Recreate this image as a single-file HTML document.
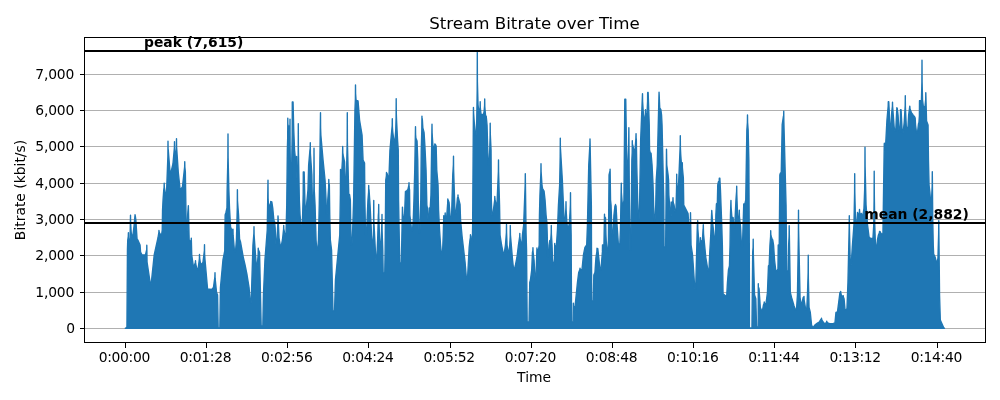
<!DOCTYPE html>
<html lang="en"><head><meta charset="utf-8"><title>Stream Bitrate over Time</title>
<style>
html,body{margin:0;padding:0;background:#fff;}
body{width:1000px;height:400px;overflow:hidden;}
svg{display:block;will-change:transform;}
text{font-family:"DejaVu Sans","Liberation Sans",sans-serif;fill:#000;}
.t10{font-size:13.89px;}
.t12{font-size:16.67px;}
.b{font-weight:bold;}
</style></head><body>
<svg width="1000" height="400" viewBox="0 0 1000 400">
<rect x="0" y="0" width="1000" height="400" fill="#ffffff"/>

<g stroke="#b0b0b0" stroke-width="1" shape-rendering="crispEdges">
<line x1="85" x2="985" y1="74.5" y2="74.5"/>
<line x1="85" x2="985" y1="110.5" y2="110.5"/>
<line x1="85" x2="985" y1="146.5" y2="146.5"/>
<line x1="85" x2="985" y1="183.5" y2="183.5"/>
<line x1="85" x2="985" y1="219.5" y2="219.5"/>
<line x1="85" x2="985" y1="255.5" y2="255.5"/>
<line x1="85" x2="985" y1="292.5" y2="292.5"/>
<line x1="85" x2="985" y1="328.5" y2="328.5"/>
</g>
<path fill="#1f77b4" stroke="#1f77b4" stroke-width="1.39" stroke-linejoin="round" d="M125.30,328.30 L125.30,328.30 L125.90,328.30 L126.95,327 L127.45,250 L127.75,240 L128.30,236.41 L128.40,232.70 L128.50,238.14 L129.15,240 L130.05,240 L130.50,215.20 L130.60,222.83 L131.15,232 L131.85,236.50 L132.75,236.50 L134.05,226 L135.05,214.72 L135.10,216.35 L135.25,215.71 L135.85,220 L137.05,239 L138.05,240.50 L140.05,245 L140.55,252 L142.05,255 L145.45,255 L146.60,250.21 L146.70,252.06 L146.80,245.20 L147.05,262 L150.30,283.75 L151.20,283.75 L154.20,255 L157.95,238 L158.90,232.40 L158.95,230.40 L159.10,231.61 L159.75,233.50 L160.75,234.50 L161.65,234.50 L162.25,230 L162.55,210 L163.05,200 L163.75,190 L164.10,187.36 L164.20,183.20 L164.30,186.81 L165.55,195 L166.45,195 L167.90,156 L168,141.20 L168.10,150.62 L168.20,149.34 L170.05,172.50 L170.95,172.50 L172.95,164 L174.40,147.83 L174.50,141.70 L174.60,149.01 L175.05,155 L175.95,155 L176.40,147.67 L176.50,138.70 L176.60,146.96 L178.30,172.50 L180.05,189 L180.95,189 L182.45,187 L184.65,166.76 L184.75,161.70 L184.85,167.10 L185.35,172 L186.25,231 L187.15,231 L187.65,215 L188.35,205.81 L189.15,240 L190.05,241 L190.95,241 L191.10,240.48 L191.20,240.86 L191.30,238.20 L191.75,255 L193.30,266 L194.20,266 L195.40,262.37 L195.50,260.70 L195.60,263.26 L197.05,270 L197.95,270 L199.40,258.73 L199.50,254.45 L199.60,257.95 L200.55,264 L201.45,264 L202.95,262.50 L204.40,250.52 L204.50,244.70 L204.60,253.84 L204.85,258 L207.55,289 L211.70,289.50 L213.45,287.50 L214.90,276.77 L215,272.70 L215.10,278.14 L216.55,292.50 L217.55,295 L218.15,328 L219.85,328 L220.45,287.50 L222.95,260 L224.75,251 L225.15,215 L225.95,212.50 L226.95,208 L227.15,190 L227.90,157.63 L228,133.90 L228.10,157.63 L228.85,190 L229.55,209 L230.55,227 L231.55,229.50 L232.55,229.47 L232.90,232.98 L233,229.20 L233.10,235.14 L234.55,252 L235.45,252 L236.45,240 L237.30,207.09 L237.40,189.70 L237.50,200.77 L238.55,215 L239.55,239 L240.55,242 L243.30,257.50 L245.05,265 L247.05,275 L249.05,287.50 L250.30,302.50 L251.20,302.50 L252.95,245 L253.90,233.41 L254,226.70 L254.10,235.09 L256.30,266 L257.20,266 L258.15,254.73 L258.25,248.20 L258.35,252.35 L258.55,250.04 L259.55,252.50 L261.15,326 L262.85,326 L263.45,295 L264.95,260 L267.25,230 L268,180.20 L268.10,198.35 L268.55,206 L269.45,206 L270.60,203.03 L270.70,201.50 L270.80,202.47 L271.10,201.72 L271.85,202 L272.75,208 L273.95,221 L274.55,221.20 L275.15,228 L275.95,244 L276.85,244 L277.90,222.16 L278,215.90 L279.05,238 L280.35,246 L281.25,246 L282.45,240 L283.60,229.04 L283.70,225.50 L283.80,228.59 L285.05,236 L285.95,236 L286.75,205 L287.35,150 L287.70,137.63 L287.80,118.20 L287.90,130.57 L288.10,124.88 L288.45,128 L289.35,128 L289.65,125.60 L289.90,137.17 L290,119.20 L290.10,147.43 L290.55,178 L291.45,178 L292.20,135 L292.30,102 L292.40,123 L292.75,102 L293.05,102 L293.75,130 L294.55,150 L295.55,160 L296.25,160 L296.50,165.91 L296.60,156.50 L296.70,171.28 L296.95,178 L297.85,178 L298.20,156.88 L298.30,123.70 L298.40,148.94 L299.35,200 L300.05,215 L301.35,229 L302.25,229 L303.20,194 L303.30,172 L303.40,186 L303.75,172 L304.15,172 L305.15,210 L306.05,210 L307.95,190 L308.65,165 L309.95,150 L310.15,148.47 L310.20,149.43 L310.30,142.70 L310.40,153.27 L311.85,175 L312.45,205 L313.35,205 L313.90,186.52 L314,148.20 L314.25,190 L315.05,205 L316.05,240 L316.75,250 L317.65,250 L318.45,240 L319.25,205 L320.50,112.70 L320.60,128.03 L320.85,135 L323.05,160 L325.05,180 L326.05,200 L326.35,214 L327.25,214 L327.75,200 L328.70,187.02 L328.80,179.50 L328.90,184.28 L329,183.07 L329.35,185 L329.75,215 L330.35,240 L331.55,250 L332.95,311 L334.55,311 L335.45,280 L339.75,235 L340.40,193.46 L340.50,169.50 L340.60,184.75 L340.90,172 L341.75,172 L342.45,160 L342.70,146.50 L342.80,153.25 L342.85,152.87 L343.05,155 L344.55,162 L345.35,185 L346.25,185 L347.20,141.61 L347.30,112.70 L347.40,142.01 L348.75,194 L349.55,194.50 L350.35,200 L351.05,245 L351.95,245 L352.65,230 L353.65,200 L354.95,110 L355.40,98.75 L355.50,85 L355.60,93.75 L356.05,100 L356.55,100.50 L358.05,101 L359.55,120 L362.05,135 L363.05,160 L364.55,163 L364.85,200 L365.55,235 L366.45,235 L367.95,200 L368.60,192.15 L368.70,185.50 L368.80,189.73 L368.90,189.16 L369.05,190 L370.05,205 L371.55,235 L372.55,244 L373.45,244 L373.75,200.50 L373.85,220.80 L374.05,225 L375.85,260 L376.75,260 L377.65,240 L378.35,215 L378.60,212.25 L378.70,204.50 L378.80,216.68 L379.55,238 L380.15,246 L381.05,246 L381.75,225 L381.85,223.50 L381.90,224.75 L382,214.50 L382.10,230.61 L382.75,250 L383.15,273 L384.75,273 L385.15,250 L385.75,180 L386.40,175.94 L386.50,172.50 L386.60,174.69 L386.85,173.30 L387.05,173.50 L388.05,177.50 L388.95,177.50 L389.95,150 L392.20,125.60 L392.30,118.70 L392.40,126.83 L392.75,132 L394.05,141.50 L394.95,141.50 L395.75,130 L396.10,117.83 L396.20,98.70 L396.30,113.34 L396.55,120 L397.55,140 L398.25,150 L398.55,200 L399.75,263 L401.35,263 L402.45,207.11 L402.85,215 L403.55,218 L404.45,218 L405.45,191.50 L406.95,190.50 L407.95,189.50 L408.90,185.25 L409,182.70 L409.10,186.71 L409.55,190 L409.85,215 L411.05,225 L411.55,231 L412.45,231 L413.25,220 L413.95,200 L414.75,170 L415.50,126.70 L415.60,134.47 L415.85,138 L417.05,141 L417.75,160 L418.25,200 L419.05,233 L419.95,233 L420.75,200 L421.25,150 L421.80,130.36 L421.95,116.20 L422,123.90 L422.30,118.73 L422.85,128 L424.05,132.50 L424.85,145 L426.05,170 L426.85,205 L427.35,208 L428.05,220 L428.95,220 L429.20,208 L429.30,214 L429.65,208 L430.25,208 L430.95,195 L432,124.20 L432.10,132.69 L432.85,145 L433.35,147 L434.25,147 L434.70,145.65 L434.80,144 L434.90,145.05 L435.20,144.15 L436.15,146 L436.75,170 L438.05,185 L438.55,210 L439.60,230.75 L440.55,245 L441.55,255 L442.45,255 L443.25,235 L443.75,215.75 L443.90,217.25 L444,216.89 L444.95,217 L445.20,213 L445.30,215.47 L445.75,217.50 L446.65,217.50 L447.70,203.13 L447.80,199 L447.90,201.63 L448.15,199.89 L449.05,202.50 L450.55,221 L451.45,221 L452.75,175 L453.40,164.82 L453.50,156.20 L453.60,169.29 L455.05,214 L455.95,214 L457.45,198 L457.90,196.65 L458,195 L458.10,196.65 L460.05,204.50 L460.55,220 L462.05,236 L465.05,262 L466.55,280 L467.45,280 L469.20,247 L469.95,240 L470.40,237.53 L470.45,234.78 L470.60,236.43 L470.70,235.88 L470.85,236 L471.45,243 L472.35,243 L472.65,225 L473.45,107.53 L473.60,113.22 L475.15,135 L476.05,135 L476.75,120 L477.20,90 L477.30,52.50 L477.40,81.79 L478.05,105 L478.75,111 L479.65,111 L480.10,106.82 L480.20,101.70 L480.30,107.47 L481.05,114.50 L483.45,114.50 L484.05,112 L484.60,105.50 L484.70,99 L484.80,106.56 L485.05,110 L485.55,115.50 L486.25,116.50 L487.05,125 L487.75,150 L488.45,165 L489.35,165 L490.10,136.40 L490.20,123.20 L490.30,134.02 L491.05,150 L491.35,200 L491.85,215 L492.75,215 L494.70,200.10 L494.80,196.50 L494.90,198.91 L496.05,205 L496.95,205 L498.40,171.25 L498.50,160 L498.60,171.79 L499.55,205 L500.05,235 L501.55,245 L503.30,253.75 L504.20,253.75 L505.45,245 L506.40,232.75 L506.50,224.50 L506.60,232.75 L507.05,245 L508.05,252 L508.95,252 L509.75,245 L510.20,236 L510.30,225.50 L510.45,235 L512.55,260 L513.55,269 L514.45,269 L515.45,265 L516.95,257.50 L518.45,245 L519.70,236.59 L519.80,233.50 L519.90,237.47 L521.05,244 L521.95,244 L522.45,235 L523.65,225 L525.20,184.06 L525.30,173.70 L526.05,232.50 L526.55,250 L527.15,322 L529.05,322 L529.75,282.50 L530.45,280 L531.70,270 L532.45,252.50 L532.90,250.42 L532.95,247.75 L533.10,252.08 L534.05,260 L535.05,279 L535.95,279 L536.95,248 L537.10,251 L537.30,249.37 L537.55,250 L538.45,250 L539.20,245 L539.45,215 L539.95,195 L540.90,172.58 L541,163.70 L541.10,171.47 L542.05,186 L542.55,188.50 L544.05,191 L545.05,200 L546.05,215 L546.85,222 L547.25,235 L547.55,257 L548.45,257 L549.05,245 L549.75,240.50 L550.75,240 L551.20,232.80 L551.30,225.50 L551.40,234.21 L552.05,245 L552.55,260 L553.55,265 L554.45,265 L554.70,243.50 L554.80,254.25 L555.10,246 L555.95,246 L556.45,245 L557.45,230 L558.45,205 L559.65,185 L560.20,156.63 L560.30,138.20 L560.40,149.93 L560.45,148.31 L562.35,180 L564.15,222 L565.05,222 L565.90,208.22 L566,201.70 L566.10,209.79 L566.85,222 L567.55,228 L568.45,228 L569.45,222 L570.15,210 L570.40,204.59 L570.50,192.70 L570.60,207.86 L571.15,235 L571.55,322 L573.15,322 L573.40,303.20 L573.50,312.60 L573.75,306.33 L574.05,307.50 L574.95,307.50 L577.45,282.50 L578.70,272.50 L579.90,269.55 L580,268.20 L580.10,269.06 L580.20,268.98 L581.05,270 L581.95,270 L583.45,255 L584.95,247.50 L586.70,245 L587.45,225 L588.75,165 L589.90,144.45 L590,138.90 L591.35,205 L591.65,301 L593.25,301 L593.85,275 L594.95,272.50 L595.95,257.50 L596.90,251.61 L597,248.20 L597.10,250.37 L597.40,248.57 L597.80,248.75 L600.05,270 L600.95,270 L602.40,251.88 L602.50,245 L602.60,249.38 L602.95,245 L603.95,245 L604.50,214.20 L604.60,220.50 L604.80,216.90 L605.55,218 L605.95,235 L606.75,252 L607.65,252 L608.45,240 L609.05,175 L609.85,171.38 L610,172.58 L610.10,169.20 L610.55,200 L611.05,205 L612.05,236 L612.95,236 L613.95,215 L614.95,206 L615.40,205.33 L615.50,204.50 L615.60,205.32 L616.05,206 L617.05,225 L618.35,244 L619.85,244 L620.45,230 L621.30,183.20 L621.40,192.47 L622.35,205 L623.25,205 L623.95,200 L624.80,99.20 L624.90,113.76 L625.25,99.20 L625.75,99.20 L626.55,150 L627.05,170 L627.95,170 L628.70,142.72 L628.85,127.81 L629.35,200 L629.95,250 L630.85,250 L631.85,160 L632.20,152.49 L632.30,140.70 L632.40,148.21 L632.60,144.67 L634.05,151 L634.95,151 L635.90,138.54 L636.05,133.62 L636.10,137.87 L636.35,140 L636.75,165 L638.15,219 L639.05,219 L639.65,200 L640.65,140 L642.50,93.70 L642.60,101.47 L643.75,119.50 L644.65,119.50 L645.40,113.85 L645.50,109.70 L645.60,112.89 L646.05,115.50 L646.95,115.50 L647.60,101.11 L647.65,93.16 L647.75,92.40 L647.80,97.72 L648.15,92.40 L649.25,125 L649.55,150 L650.25,153 L651.05,153.20 L652.05,165 L653.05,185 L654.05,221 L654.95,221 L655.75,205 L656.25,180 L657.25,165 L659.05,92.20 L659.75,108 L660.85,109.70 L661.55,115 L662.05,125 L663.75,200 L664.05,247 L665.65,247 L666.50,149.20 L666.75,165 L668.05,174.50 L668.55,180 L668.85,195 L670.35,216 L671.10,216 L671.20,202 L671.30,214.25 L671.65,203 L672.45,203 L672.90,200.62 L673,197.70 L673.10,201.34 L673.35,203 L674.05,205 L675.05,212 L675.95,212 L676.60,186.61 L676.70,174.20 L676.80,182.69 L677.45,190 L678.35,190 L680.20,145.53 L680.30,135.70 L680.40,147.49 L680.75,155 L681.35,163 L681.85,163 L681.90,163.16 L682.20,165.95 L682.30,162.70 L682.40,167.81 L683.35,178 L683.75,205 L688.05,213.50 L688.75,225 L690.25,225 L690.50,212.70 L691.05,245 L692.55,255 L694.80,288.75 L695.70,288.75 L697.35,225 L697.50,224.23 L697.60,225.64 L697.70,220.70 L697.80,228.47 L699.45,250 L700.30,250 L700.40,237.70 L700.50,246.31 L700.75,241 L701.65,241 L702.45,240 L703.10,228.86 L703.20,229.35 L703.30,224.70 L703.55,234 L705.80,257.50 L708.05,271 L708.95,271 L709.75,252.50 L710.75,235 L711.75,210.50 L712.55,222 L714.55,240 L715.45,240 L715.85,215 L716.45,203.70 L717.35,203 L717.75,185 L718.45,181.70 L719.20,181.04 L719.30,178.20 L719.40,180.16 L719.85,178.20 L720.45,190 L721.75,225 L722.35,245 L723.05,293.75 L725.80,296 L726.70,296 L727.45,282.50 L728.45,270 L729.45,266 L730.05,245 L730.45,215 L730.95,200.43 L731.10,207.35 L731.85,217 L733.15,217.70 L733.75,228 L734.65,228 L735.95,200 L736.60,191.33 L736.70,186.20 L736.80,194.27 L737.55,215 L737.95,221 L738.85,221 L739.30,210.20 L739.40,216.33 L740.55,227 L741.55,247 L742.45,247 L743.75,204 L744.95,203.70 L745.75,200 L746.85,130 L747.40,122.50 L747.50,115 L747.60,122.50 L748.15,130 L748.85,160 L749.30,245 L749.45,328 L751.95,328 L752.70,252 L753.10,247.66 L753.20,239.20 L753.30,252.50 L754.55,295 L755.80,298.75 L756.55,327 L758.20,327 L758.30,283.70 L758.40,314.01 L758.75,287.67 L759.05,289 L760.30,307.50 L761.55,310.50 L762.45,310.50 L763.45,305 L764.15,303.32 L764.25,302 L764.35,302.88 L765.05,304 L765.95,304 L767.45,292.50 L768.45,266 L769.20,265 L769.95,245 L770.60,236.44 L770.70,230.70 L770.80,234.35 L771.05,236 L772.05,239 L772.75,240 L773.55,245 L774.55,260 L775.80,271 L776.70,271 L777.95,269 L778.25,245 L778.35,256.20 L778.70,245 L779.25,245 L779.85,175 L780.45,173 L781.25,172.50 L782.20,124.50 L783.50,115.86 L783.65,117.64 L783.75,111.20 L783.85,121.32 L786.05,205 L786.75,271 L788.35,271 L788.65,245 L789.10,236 L789.20,225.70 L790.30,292.50 L791.55,297.50 L794.05,306 L795.55,310 L796.45,310 L797.45,295 L798.40,235.72 L798.50,210.20 L798.60,229.34 L800.05,297.50 L801.05,303.75 L801.95,303.75 L803.20,297.50 L803.65,297.12 L803.90,298.57 L804,296.45 L804.10,299.78 L805.80,310 L806.70,310 L807.45,295 L808.15,272.71 L808.25,255.20 L808.35,278.21 L809.05,307.50 L810.30,312.50 L811.55,325 L812.55,327 L813.45,327 L815.45,324.50 L817.45,323 L819.20,322 L820.45,320 L821.40,318.91 L821.50,318.20 L821.60,319.32 L822.55,321.25 L824.55,323.75 L825.45,323.75 L826.65,322 L826.75,321.20 L826.85,321.86 L827.80,323 L829.55,323.75 L832.95,323.70 L834.95,323 L835.95,312.50 L837.45,312 L839.95,292.50 L840.45,292.08 L840.65,292.72 L840.70,291.49 L840.85,293.45 L841.55,296 L842.85,295.90 L843.15,296.55 L843.25,295.70 L843.35,297.04 L844.05,298.75 L845.05,310 L845.95,310 L846.95,308.75 L847.95,282.50 L849.20,226.82 L849.30,215.70 L849.40,227.22 L850.30,265 L851.20,265 L852.45,245 L853.95,225 L854.60,192.50 L854.70,173.70 L854.80,192.08 L855.35,215 L855.85,226 L856.75,226 L857.50,212.50 L857.60,214.25 L857.75,213.55 L858.05,214 L858.95,214 L859.40,211.98 L859.50,209.50 L859.60,211.97 L860.05,214 L861.25,213.85 L861.40,214.02 L861.50,213.50 L861.60,214.32 L862.05,215 L862.95,215 L863.95,208.50 L864.65,190 L864.90,175 L865,147.20 L865.10,166.25 L866.05,205 L867.55,225 L869.05,237 L870.55,238.50 L872.95,238.50 L873.75,225 L874.10,200.50 L874.20,171.20 L874.30,193.50 L874.75,225 L875.55,248 L876.45,248 L877.45,240 L878.45,235 L879.40,232.78 L879.50,231.50 L879.60,232.32 L880.05,231.50 L881.05,233.50 L882.05,234 L882.95,234 L884.25,144.25 L884.35,143.30 L884.40,150.55 L884.70,144.90 L885.65,145 L886.95,120 L888.20,106.03 L888.30,101.70 L888.40,104.46 L888.75,101.70 L890.15,128.50 L891.05,128.50 L891.75,112 L892.40,106.69 L892.50,102.20 L892.60,106.19 L894.15,127 L894.85,131 L895.75,131 L896.85,107.70 L896.90,110.89 L897.20,108.16 L898.05,115 L899.05,131.50 L899.95,131.50 L900.40,121.38 L900.50,109.70 L900.60,116.96 L901.05,109.70 L902.25,132.50 L903.15,132.50 L904.25,122 L905.20,105.53 L905.30,95.70 L905.40,106.94 L906.35,127.50 L907.95,127.50 L908.65,115 L909.80,106.20 L910.05,109 L911.55,113 L912.55,114.20 L913.55,116 L914.35,116.20 L915.15,118 L915.55,125 L916.55,133 L917.45,133 L918.45,124 L918.95,122.50 L919.40,115.75 L919.50,100.70 L919.60,110.71 L919.95,100.70 L920.95,100.70 L921.45,100 L921.90,82 L922,60.20 L922.10,82 L922.55,100 L923.35,106.70 L924.95,106.70 L925.70,99.39 L925.80,92.70 L926.55,121 L928.05,125 L928.45,160 L929.05,185 L929.85,192 L930.55,201 L931.45,201 L932.20,186 L932.30,171.70 L932.75,220 L933.25,245 L933.65,254 L935.05,257 L936.35,262 L937.25,262 L937.95,258 L938.65,233.75 L938.75,220.70 L939.55,295 L940.30,320 L943.95,328.26 L944.50,328.30 L944.50,328.30 Z"/>
<g fill="#000" shape-rendering="crispEdges">
<rect x="85" y="50" width="900" height="2"/>
<rect x="85" y="222" width="900" height="2"/>
</g>
<g fill="#000" shape-rendering="crispEdges">
<rect x="84" y="37" width="1" height="306"/>
<rect x="985" y="37" width="1" height="306"/>
<rect x="84" y="37" width="902" height="1"/>
<rect x="84" y="342" width="902" height="1"/>
<rect x="79.5" y="74" width="5" height="1"/>
<rect x="79.5" y="110" width="5" height="1"/>
<rect x="79.5" y="146" width="5" height="1"/>
<rect x="79.5" y="183" width="5" height="1"/>
<rect x="79.5" y="219" width="5" height="1"/>
<rect x="79.5" y="255" width="5" height="1"/>
<rect x="79.5" y="292" width="5" height="1"/>
<rect x="79.5" y="328" width="5" height="1"/>
<rect x="125" y="343" width="1" height="4.5"/>
<rect x="206" y="343" width="1" height="4.5"/>
<rect x="287" y="343" width="1" height="4.5"/>
<rect x="368" y="343" width="1" height="4.5"/>
<rect x="450" y="343" width="1" height="4.5"/>
<rect x="531" y="343" width="1" height="4.5"/>
<rect x="612" y="343" width="1" height="4.5"/>
<rect x="693" y="343" width="1" height="4.5"/>
<rect x="774" y="343" width="1" height="4.5"/>
<rect x="855" y="343" width="1" height="4.5"/>
<rect x="937" y="343" width="1" height="4.5"/>
</g>
<text class="t10" x="74.2" y="79.3" text-anchor="end" letter-spacing="-0.15">7,000</text>
<text class="t10" x="74.2" y="115.3" text-anchor="end" letter-spacing="-0.15">6,000</text>
<text class="t10" x="74.2" y="151.3" text-anchor="end" letter-spacing="-0.15">5,000</text>
<text class="t10" x="74.2" y="188.3" text-anchor="end" letter-spacing="-0.15">4,000</text>
<text class="t10" x="74.2" y="224.3" text-anchor="end" letter-spacing="-0.15">3,000</text>
<text class="t10" x="74.2" y="260.3" text-anchor="end" letter-spacing="-0.15">2,000</text>
<text class="t10" x="74.2" y="297.3" text-anchor="end" letter-spacing="-0.15">1,000</text>
<text class="t10" x="75.2" y="333.3" text-anchor="end">0</text>
<text class="t10" x="124.35" y="362" text-anchor="middle" letter-spacing="-0.3">0:00:00</text>
<text class="t10" x="205.55" y="362" text-anchor="middle" letter-spacing="-0.3">0:01:28</text>
<text class="t10" x="286.75" y="362" text-anchor="middle" letter-spacing="-0.3">0:02:56</text>
<text class="t10" x="367.95" y="362" text-anchor="middle" letter-spacing="-0.3">0:04:24</text>
<text class="t10" x="449.15" y="362" text-anchor="middle" letter-spacing="-0.3">0:05:52</text>
<text class="t10" x="530.35" y="362" text-anchor="middle" letter-spacing="-0.3">0:07:20</text>
<text class="t10" x="611.55" y="362" text-anchor="middle" letter-spacing="-0.3">0:08:48</text>
<text class="t10" x="692.75" y="362" text-anchor="middle" letter-spacing="-0.3">0:10:16</text>
<text class="t10" x="773.95" y="362" text-anchor="middle" letter-spacing="-0.3">0:11:44</text>
<text class="t10" x="855.15" y="362" text-anchor="middle" letter-spacing="-0.3">0:13:12</text>
<text class="t10" x="936.35" y="362" text-anchor="middle" letter-spacing="-0.3">0:14:40</text>
<text class="t10" x="534.1" y="381.8" text-anchor="middle">Time</text>
<text class="t10" transform="translate(24.8,190) rotate(-90)" text-anchor="middle">Bitrate (kbit/s)</text>
<text class="t12" x="534.5" y="28.8" text-anchor="middle">Stream Bitrate over Time</text>
<text class="t10 b" x="144" y="47.2">peak (7,615)</text>
<text class="t10 b" x="968.8" y="219.2" text-anchor="end">mean (2,882)</text>
</svg></body></html>
